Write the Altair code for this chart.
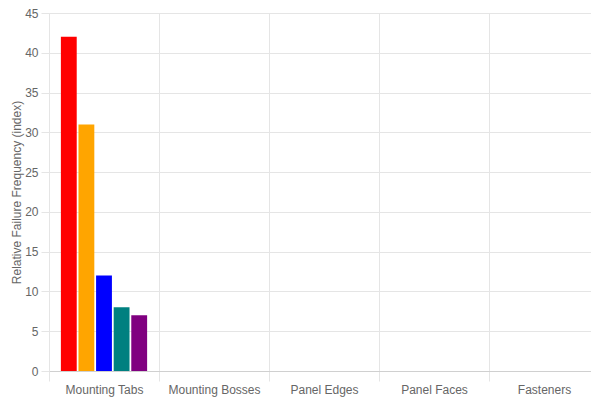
import altair as alt
import pandas as pd

categories = ["Mounting Tabs", "Mounting Bosses", "Panel Edges", "Panel Faces", "Fasteners"]
series = ["A", "B", "C", "D", "E"]
values = [42, 31, 12, 8, 7]
colors = ["#ff0000", "#ffa500", "#0000ff", "#008080", "#800080"]

df = pd.DataFrame({
    "category": [categories[0]] * len(series),
    "series": series,
    "value": values,
})

font = "Liberation Sans"
grid = "#e5e5e5"

chart = alt.Chart(df).mark_bar().encode(
    x=alt.X("category:N",
            scale=alt.Scale(domain=categories, paddingInner=0, paddingOuter=0),
            axis=alt.Axis(title=None, labelAngle=0, tickBand="extent", grid=True,
                          gridColor=grid, domainColor="#d0d0d0", tickColor=grid,
                          tickSize=10, labelPadding=3, labelFontSize=12,
                          labelColor="#666666", labelFont=font)),
    xOffset=alt.XOffset("series:N",
                        scale=alt.Scale(domain=series, paddingInner=0.1, paddingOuter=0.675)),
    y=alt.Y("value:Q",
            scale=alt.Scale(domain=[0, 45], nice=False),
            axis=alt.Axis(title="Relative Failure Frequency (index)", values=list(range(0, 46, 5)),
                          gridColor=grid, domainColor=grid, tickColor=grid, tickSize=8,
                          labelPadding=3, labelFontSize=12, labelColor="#666666", labelFont=font,
                          titleFont=font, titleFontSize=12, titleFontWeight="normal",
                          titleColor="#666666", titlePadding=1)),
    color=alt.Color("series:N", scale=alt.Scale(domain=series, range=colors), legend=None),
).properties(
    width=550, height=358,
    autosize=alt.AutoSizeParams(type="none"),
    padding={"left": 41, "top": 5, "right": -8, "bottom": 30},
).configure_view(stroke=None)

chart.save("out.html", embed_options={"renderer": "svg", "actions": False})
